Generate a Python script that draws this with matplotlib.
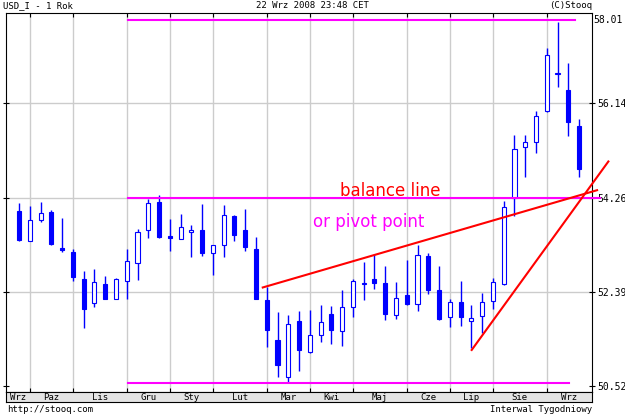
import matplotlib
matplotlib.use("Agg")
import matplotlib.pyplot as plt
from matplotlib.transforms import blended_transform_factory

# weekly candles, USD_I, one year (index 0 = first week on the chart)
opens = [54.00, 53.41, 53.82, 53.97, 53.26, 53.19, 52.64, 52.17, 52.54, 52.26,
         52.60, 52.97, 53.63, 54.18, 53.50, 53.45, 53.59, 53.63, 53.16, 53.32,
         53.90, 53.63, 53.24, 52.23, 51.44, 50.71, 51.81, 51.19, 51.53, 51.95,
         51.62, 52.10, 52.55, 52.65, 52.57, 51.93, 52.34, 52.15, 53.11, 52.43,
         51.89, 52.19, 51.82, 51.91, 52.21, 52.54, 54.26, 55.26, 55.37, 55.98,
         56.71, 56.40, 55.68]
highs = [54.16, 54.10, 54.18, 54.02, 53.86, 53.24, 52.81, 52.85, 52.71, 52.67,
         53.24, 53.65, 54.24, 54.31, 53.83, 53.94, 53.72, 54.14, 53.32, 54.12,
         53.92, 54.04, 53.48, 52.49, 51.99, 51.93, 52.01, 52.04, 52.13, 52.11,
         52.43, 52.65, 52.98, 53.15, 52.91, 52.58, 53.02, 53.32, 53.16, 52.91,
         52.26, 52.60, 52.13, 52.38, 52.66, 54.20, 55.51, 55.51, 55.99, 57.23,
         57.75, 56.94, 55.82]
lows = [53.41, 53.40, 53.77, 53.33, 53.19, 52.61, 51.68, 52.10, 52.25, 52.25,
        52.26, 52.63, 53.47, 53.46, 53.21, 53.44, 53.09, 53.11, 52.73, 53.09,
        53.40, 53.20, 52.25, 51.29, 50.70, 50.59, 50.83, 51.17, 51.40, 51.35,
        51.32, 51.89, 52.23, 52.45, 51.84, 51.85, 52.14, 52.02, 52.36, 51.83,
        51.69, 51.72, 51.28, 51.57, 52.05, 52.53, 53.90, 54.68, 55.14, 55.97,
        56.46, 55.49, 54.67]
closes = [53.42, 53.82, 53.96, 53.34, 53.23, 52.69, 52.06, 52.58, 52.26, 52.65,
          53.01, 53.59, 54.16, 53.48, 53.46, 53.68, 53.63, 53.16, 53.32, 53.92,
          53.53, 53.29, 52.26, 51.64, 50.95, 51.75, 51.23, 51.54, 51.79, 51.64,
          52.09, 52.61, 52.57, 52.57, 51.96, 52.28, 52.15, 53.12, 52.43, 51.86,
          52.19, 51.89, 51.87, 52.19, 52.58, 54.07, 55.22, 55.36, 55.88, 57.09,
          56.74, 55.77, 54.84]

# month boundaries (week index) and labels
month_starts = [1, 5, 10, 14, 18, 23, 27, 31, 36, 40, 44, 49]
month_names = ["Wrz", "Paz", "Lis", "Gru", "Sty", "Lut", "Mar", "Kwi",
               "Maj", "Cze", "Lip", "Sie", "Wrz"]
y_ticks = [50.52, 52.39, 54.26, 56.14]
y_top_label = "58.01"

# hand-drawn annotation lines
support_x = [22.63, 53.67]
support_y = [52.48, 54.41]
trend_x = [42.03, 54.72]
trend_y = [51.24, 54.98]
level_top = 57.78
level_mid = 54.26
level_low = 50.58

x_min, x_max = -1.21, 53.2
blue = "#0000ff"
mono = "DejaVu Sans Mono"

fig = plt.figure(figsize=(6.25, 4.16), dpi=100)
ax = fig.add_axes([6 / 625, 23.7 / 416, 586 / 625, 379 / 416])
ax.set_xlim(x_min, x_max)
ax.set_ylim(50.40, 57.92)

# grid
for m in month_starts:
    ax.axvline(m, color="#cccccc", lw=1.0, zorder=0)
for t in y_ticks[1:]:
    ax.axhline(t, color="#cccccc", lw=1.0, zorder=0)

# candles
idx = list(range(len(opens)))
ax.vlines(idx, lows, highs, color=blue, lw=1.0, zorder=2)
for i in idx:
    o, c = opens[i], closes[i]
    bottom = min(o, c)
    height = max(abs(c - o), 0.015)
    face = blue if c < o else "white"
    ax.bar(i, height, bottom=bottom, width=0.38, facecolor=face,
           edgecolor=blue, lw=0.8, zorder=3)

# levels
mag = "#ff00ff"
ax.plot([10.1, 51.6], [level_top, level_top], color=mag, lw=1.5, zorder=4)
ax.plot([10.1, 53.95], [level_mid, level_mid], color=mag, lw=1.5, zorder=4,
        clip_on=False)
ax.plot([10.1, 51.1], [level_low, level_low], color=mag, lw=1.5, zorder=4)
ax.plot(support_x, support_y, color="#ff0000", lw=1.5, zorder=5, clip_on=False)
ax.plot(trend_x, trend_y, color="#ff0000", lw=1.5, zorder=5, clip_on=False)

ax.text(29.8, 54.29, "balance line", color="#ff0000", fontsize=12,
        va="baseline", ha="left", zorder=6)
ax.text(27.27, 53.67, "or pivot point", color=mag, fontsize=12,
        va="baseline", ha="left", zorder=6)

# axes styling
ax.set_xticks(month_starts)
ax.set_xticklabels([])
ax.tick_params(axis="x", top=True, bottom=True, direction="in", length=3,
               width=0.8, color="black")
ax.set_yticks(y_ticks)
ax.set_yticklabels([f"{v:.2f}" for v in y_ticks], fontfamily=mono, fontsize=7)
ax.tick_params(axis="y", left=True, right=True, labelleft=False,
               labelright=True, direction="inout", length=5, width=0.8, pad=1)
trans = blended_transform_factory(ax.transAxes, ax.transData)
ax.text(1.003, level_top, y_top_label, transform=trans, fontfamily=mono,
        fontsize=7, va="center", ha="left")
for s in ax.spines.values():
    s.set_linewidth(0.8)

# month label strip
sx = fig.add_axes([6 / 625, 14.5 / 416, 586 / 625, 9.2 / 416])
sx.set_xlim(x_min, x_max)
sx.set_ylim(0, 1)
sx.set_facecolor("#e4e4e4")
sx.set_xticks([])
sx.set_yticks([])
for s in sx.spines.values():
    s.set_linewidth(0.8)
edges = [x_min] + month_starts + [x_max]
for k, name in enumerate(month_names):
    sx.text((edges[k] + edges[k + 1]) / 2, 0.45, name, fontfamily=mono,
            fontsize=6.5, ha="center", va="center")

# header / footer
fig.text(3 / 625, 1 - 6 / 416, "USD_I - 1 Rok", fontfamily=mono, fontsize=6.5,
         ha="left", va="center")
fig.text(312 / 625, 1 - 6 / 416, "22 Wrz 2008 23:48 CET", fontfamily=mono,
         fontsize=6.5, ha="center", va="center")
fig.text(592 / 625, 1 - 6 / 416, "(C)Stooq", fontfamily=mono, fontsize=6.5,
         ha="right", va="center")
fig.text(7 / 625, 1 - 410 / 416, "http://stooq.com", fontfamily=mono,
         fontsize=6.5, ha="left", va="center")
fig.text(592 / 625, 1 - 410 / 416, "Interwal Tygodniowy", fontfamily=mono,
         fontsize=6.5, ha="right", va="center")

fig.savefig("out.png", dpi=100)
